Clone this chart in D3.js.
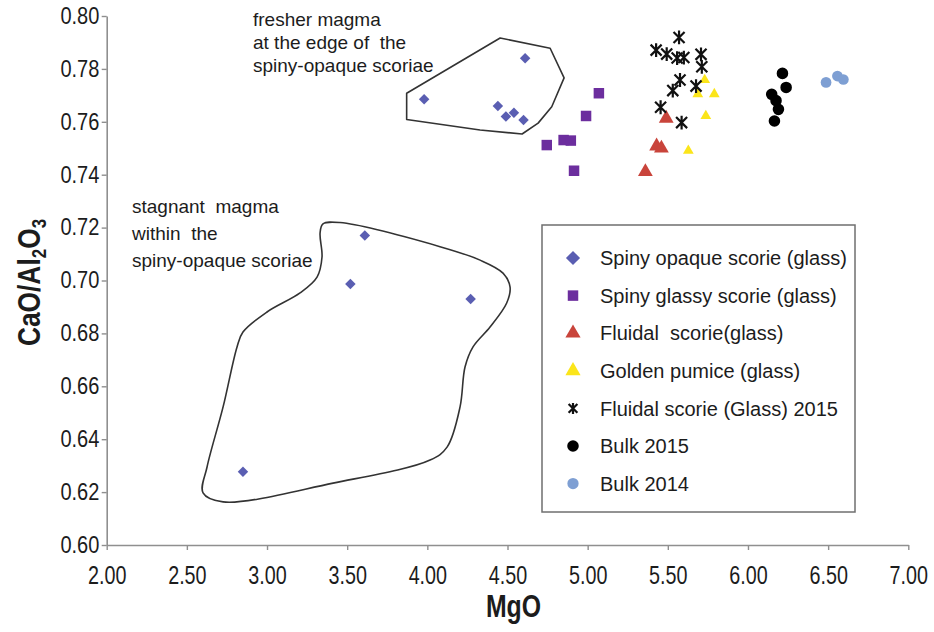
<!DOCTYPE html>
<html>
<head>
<meta charset="utf-8">
<script src="https://cdn.jsdelivr.net/npm/d3@7"></script>
<style>
  body { margin: 0; background: #fff; }
  svg { display: block; }
  text { font-family: "Liberation Sans", Arial, Helvetica, sans-serif; white-space: pre; }
</style>
</head>
<body>
<svg id="chart" width="934" height="632"></svg>
<script>
// ---- Data: MgO (x) vs CaO/Al2O3 (y) ----
const spinyOpaqueMgO   = [4.61, 3.98, 4.44, 4.49, 4.54, 4.60, 3.61, 3.52, 4.27, 2.85];
const spinyOpaqueRatio = [0.784, 0.7685, 0.766, 0.762, 0.7634, 0.7607, 0.717, 0.6987, 0.693, 0.6277];

const spinyGlassyMgO   = [5.07, 4.99, 4.745, 4.85, 4.895, 4.915];
const spinyGlassyRatio = [0.7708, 0.7622, 0.7512, 0.7531, 0.7529, 0.7415];

const fluidalMgO   = [5.49, 5.43, 5.46, 5.36];
const fluidalRatio = [0.7613, 0.7508, 0.7500, 0.7411];

const goldenMgO   = [5.73, 5.687, 5.79, 5.737, 5.628];
const goldenRatio = [0.7758, 0.7705, 0.7705, 0.7622, 0.7491];

const fluidal2015MgO   = [5.57, 5.427, 5.493, 5.558, 5.60, 5.707, 5.712, 5.576, 5.531, 5.676, 5.455, 5.586];
const fluidal2015Ratio = [0.7919, 0.7871, 0.7856, 0.7841, 0.7843, 0.7855, 0.7808, 0.7758, 0.7718, 0.7735, 0.7655, 0.7597];

const bulk2015MgO   = [6.215, 6.238, 6.148, 6.175, 6.19, 6.165];
const bulk2015Ratio = [0.7783, 0.7730, 0.7704, 0.7680, 0.7647, 0.7603];

const bulk2014MgO   = [6.487, 6.558, 6.595];
const bulk2014Ratio = [0.7749, 0.7773, 0.7760];

const seriesNames = [
  "Spiny opaque scorie (glass)",
  "Spiny glassy scorie (glass)",
  "Fluidal  scorie(glass)",
  "Golden pumice (glass)",
  "Fluidal scorie (Glass) 2015",
  "Bulk 2015",
  "Bulk 2014"
];

const xTicks = [2, 2.5, 3, 3.5, 4, 4.5, 5, 5.5, 6, 6.5, 7];
const yTicks = [0.60, 0.62, 0.64, 0.66, 0.68, 0.70, 0.72, 0.74, 0.76, 0.78, 0.80];

// Hand-drawn envelopes around the two spiny-opaque groups, in data units
const fresherEnvelope = [
  [3.871, 0.7708], [4.454, 0.7917], [4.766, 0.7878], [4.853, 0.7766],
  [4.776, 0.7657], [4.691, 0.7595], [4.591, 0.7554], [4.329, 0.7569], [3.871, 0.7609]
];
const stagnantEnvelope = [
  [3.349, 0.7214], [3.455, 0.7219], [4.079, 0.7128], [4.329, 0.7077], [4.472, 0.7028],
  [4.516, 0.6975], [4.495, 0.6915], [4.391, 0.6824], [4.285, 0.6749], [4.235, 0.6673],
  [4.204, 0.6522], [4.123, 0.6370], [4.017, 0.6321], [3.412, 0.6234], [2.726, 0.6163],
  [2.601, 0.6197], [2.626, 0.6295], [2.726, 0.6522], [2.813, 0.6749], [2.850, 0.6805],
  [3.000, 0.6881], [3.206, 0.6953], [3.312, 0.7013], [3.343, 0.7089], [3.331, 0.7180]
];

const fresherLabel  = ["fresher magma", "at the edge of  the", "spiny-opaque scoriae"];
const stagnantLabel = ["stagnant  magma", "within  the", "spiny-opaque scoriae"];

// ---- Layout ----
const svg = d3.select("#chart");
const x = d3.scaleLinear().domain([2, 7]).range([106.7, 908.3]);
const y = d3.scaleLinear().domain([0.6, 0.8]).range([545, 16]);
const axisColor = "#8f8f8f";
const textColor = "#1c1c1c";

// ---- Axes ----
const xAxis = svg.append("g")
  .attr("transform", `translate(0,${y(0.6)})`)
  .call(d3.axisBottom(x).tickValues(xTicks).tickFormat(d3.format(".2f")).tickSizeInner(5).tickSizeOuter(0));
xAxis.select(".domain").attr("stroke", axisColor).attr("stroke-width", 1.6);
xAxis.selectAll(".tick line").attr("stroke", axisColor).attr("stroke-width", 1.4);
xAxis.selectAll(".tick text")
  .attr("y", 21).attr("dy", "0.71em")
  .attr("transform", "scale(0.76,1)")
  .attr("font-size", 26).attr("fill", textColor);

const yAxis = svg.append("g")
  .attr("transform", `translate(${x(2)},0)`)
  .call(d3.axisLeft(y).tickValues(yTicks).tickFormat(d3.format(".2f")).tickSizeInner(5).tickSizeOuter(0));
yAxis.select(".domain").attr("stroke", axisColor).attr("stroke-width", 1.6);
yAxis.selectAll(".tick line").attr("stroke", axisColor).attr("stroke-width", 1.4);
yAxis.selectAll(".tick text")
  .attr("x", -8.5)
  .attr("transform", "scale(0.87,1)")
  .attr("font-size", 23).attr("fill", textColor);

// Axis titles
svg.append("text")
  .attr("transform", `translate(${(x(2) + x(7)) / 2 + 6},617) scale(0.8,1)`)
  .attr("text-anchor", "middle")
  .attr("font-size", 31).attr("font-weight", "bold").attr("fill", textColor)
  .text("MgO");

const yTitle = svg.append("text")
  .attr("transform", `translate(40,${y(0.70) + 2}) rotate(-90) scale(0.85,1)`)
  .attr("text-anchor", "middle")
  .attr("font-size", 31).attr("font-weight", "bold").attr("fill", textColor);
yTitle.append("tspan").text("CaO/Al");
yTitle.append("tspan").attr("font-size", 20).attr("dy", 6).text("2");
yTitle.append("tspan").attr("dy", -6).text("O");
yTitle.append("tspan").attr("font-size", 20).attr("dy", 6).text("3");

// ---- Envelopes ----
svg.append("path")
  .datum(fresherEnvelope)
  .attr("d", d3.line().x(d => x(d[0])).y(d => y(d[1])).curve(d3.curveLinearClosed))
  .attr("fill", "none").attr("stroke", "#333").attr("stroke-width", 1.6).attr("stroke-linejoin", "round");

svg.append("path")
  .datum(stagnantEnvelope)
  .attr("d", d3.line().x(d => x(d[0])).y(d => y(d[1])).curve(d3.curveCatmullRomClosed.alpha(0.5)))
  .attr("fill", "none").attr("stroke", "#333").attr("stroke-width", 1.6);

// Annotation text
function annotate(lines, left, top, step) {
  const t = svg.append("text").attr("font-size", 19).attr("fill", textColor);
  lines.forEach((s, i) => {
    t.append("tspan").attr("x", left).attr("y", top + i * step).text(s);
  });
}
annotate(fresherLabel, 253, 26, 23);
annotate(stagnantLabel, 132, 213, 27);

// ---- Markers ----
const asteriskSymbol = {
  draw(ctx, size) {
    const r = Math.sqrt(size) / 2;
    const d = r * 0.8;
    ctx.moveTo(0, -r); ctx.lineTo(0, r);
    ctx.moveTo(-d, -d); ctx.lineTo(d, d);
    ctx.moveTo(-d, d); ctx.lineTo(d, -d);
  }
};

const series = [
  { xs: spinyOpaqueMgO, ys: spinyOpaqueRatio, type: d3.symbolSquare, size: 55, rot: 45, fill: "#5a5eb2" },
  { xs: spinyGlassyMgO, ys: spinyGlassyRatio, type: d3.symbolSquare, size: 110, rot: 0, fill: "#6c2e9e" },
  { xs: fluidalMgO, ys: fluidalRatio, type: d3.symbolTriangle, size: 95, rot: 0, fill: "#c9443b" },
  { xs: goldenMgO, ys: goldenRatio, type: d3.symbolTriangle, size: 50, rot: 0, fill: "#fbe51a" },
  { xs: fluidal2015MgO, ys: fluidal2015Ratio, type: asteriskSymbol, size: 190, rot: 0, fill: "none", stroke: "#111" },
  { xs: bulk2015MgO, ys: bulk2015Ratio, type: d3.symbolCircle, size: 105, rot: 0, fill: "#000" },
  { xs: bulk2014MgO, ys: bulk2014Ratio, type: d3.symbolCircle, size: 90, rot: 0, fill: "#7e9fd3" }
];
series.forEach((s, i) => { s.name = seriesNames[i]; });

const markerGroup = svg.append("g");
series.forEach(s => {
  const sym = d3.symbol().type(s.type).size(s.size);
  markerGroup.append("g").selectAll("path")
    .data(s.xs.map((v, i) => [v, s.ys[i]]))
    .join("path")
    .attr("transform", d => `translate(${x(d[0])},${y(d[1])}) rotate(${s.rot})`)
    .attr("d", sym)
    .attr("fill", s.fill)
    .attr("stroke", s.stroke || "none")
    .attr("stroke-width", s.stroke ? 2.2 : 0);
});

// ---- Legend ----
const legend = svg.append("g").attr("transform", "translate(542,225)");
legend.append("rect")
  .attr("width", 313).attr("height", 287)
  .attr("fill", "#fff").attr("stroke", "#6f6f6f").attr("stroke-width", 1.5);
const rows = legend.selectAll("g.row")
  .data(series)
  .join("g")
  .attr("class", "row")
  .attr("transform", (d, i) => `translate(0,${33 + i * 37.6})`);
rows.append("path")
  .attr("transform", d => `translate(31,0) rotate(${d.rot})`)
  .attr("d", d => d3.symbol().type(d.type).size(d.type === asteriskSymbol ? 120 : Math.max(d.size, 100))())
  .attr("fill", d => d.fill)
  .attr("stroke", d => d.stroke || "none")
  .attr("stroke-width", d => d.stroke ? 2.2 : 0);
rows.append("text")
  .attr("x", 58).attr("dy", "0.36em")
  .attr("font-size", 20).attr("fill", textColor)
  .text(d => d.name);
</script>
</body>
</html>
